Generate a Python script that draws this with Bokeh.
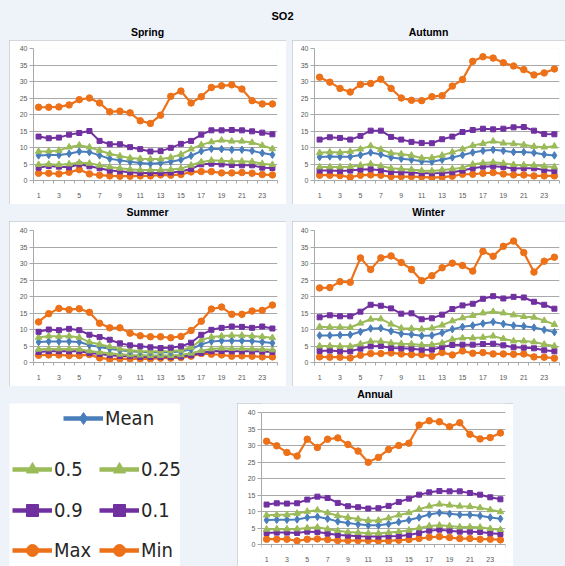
from bokeh.plotting import figure
from bokeh.layouts import column, row
from bokeh.models import Div, Range1d, FixedTicker, Legend, LegendItem
from bokeh.embed import file_html
from bokeh.resources import INLINE

# ---------------- data ----------------
hours = list(range(1, 25))
x_tick_labels = [1, 3, 5, 7, 9, 11, 13, 15, 17, 19, 21, 23]
y_ticks = [0, 5, 10, 15, 20, 25, 30, 35, 40]
series_names = ["Max", "0.9", "0.5", "Mean", "0.25", "0.1", "Min"]

spring_max = [22.2, 22.2, 22.3, 22.9, 24.5, 25.0, 23.5, 20.8, 21.0, 20.5, 18.1, 17.3,
              19.8, 25.5, 27.1, 23.5, 25.4, 28.2, 28.7, 29.0, 27.7, 24.2, 23.2, 23.2]
spring_p90 = [13.3, 12.8, 13.0, 13.9, 14.4, 15.0, 12.0, 11.0, 11.0, 10.1, 9.5, 8.8,
              8.9, 9.9, 11.1, 12.0, 13.9, 15.2, 15.2, 15.3, 15.2, 14.9, 14.5, 14.0]
spring_p50 = [8.8, 8.9, 9.1, 10.1, 10.7, 10.1, 9.1, 8.1, 7.4, 6.8, 6.6, 6.5,
              6.5, 7.0, 7.9, 9.5, 10.8, 11.7, 12.2, 11.9, 11.9, 11.5, 10.6, 9.6]
spring_mean = [7.6, 7.7, 7.7, 8.1, 8.8, 8.6, 7.6, 6.6, 6.1, 5.7, 5.3, 5.1,
               5.3, 5.7, 6.3, 7.5, 8.9, 9.6, 9.5, 9.3, 9.3, 9.0, 8.3, 7.8]
spring_p25 = [4.8, 4.9, 4.8, 5.0, 5.4, 5.2, 4.6, 4.1, 3.7, 3.4, 3.2, 3.2,
              3.2, 3.3, 3.6, 4.6, 5.6, 6.1, 6.0, 5.8, 5.8, 5.7, 5.1, 4.8]
spring_p10 = [3.9, 4.4, 4.2, 4.0, 4.9, 4.3, 3.7, 3.0, 2.8, 2.5, 2.3, 2.3,
              2.3, 2.4, 2.7, 3.5, 4.9, 5.1, 4.9, 4.7, 4.6, 4.6, 3.9, 3.8]
spring_min = [2.2, 2.2, 2.0, 2.5, 3.3, 2.0, 1.6, 1.4, 1.3, 1.3, 1.4, 1.4,
              1.7, 1.6, 1.8, 2.6, 2.7, 2.7, 2.3, 2.3, 2.4, 2.2, 1.8, 1.7]

autumn_max = [31.3, 29.8, 27.9, 26.8, 29.1, 29.4, 30.7, 27.9, 25.0, 24.3, 24.2, 25.4,
              25.7, 28.6, 30.6, 36.1, 37.5, 37.1, 35.7, 34.7, 33.6, 32.0, 32.6, 33.8]
autumn_p90 = [12.4, 13.1, 12.9, 12.4, 13.5, 15.1, 15.1, 13.2, 12.4, 11.7, 11.4, 11.3,
              12.5, 13.3, 14.7, 15.3, 15.7, 15.5, 15.7, 16.1, 16.2, 15.1, 14.1, 14.0]
autumn_p50 = [8.4, 8.6, 8.5, 8.8, 9.5, 10.5, 9.4, 8.3, 8.0, 7.6, 6.8, 6.9,
              7.6, 8.6, 9.5, 10.6, 11.2, 11.9, 11.3, 11.1, 10.8, 10.3, 10.1, 10.4]
autumn_mean = [7.1, 7.3, 7.2, 7.2, 7.7, 8.5, 7.9, 7.0, 6.6, 6.3, 5.8, 5.7,
               6.3, 7.0, 7.7, 8.5, 9.0, 9.3, 9.0, 8.6, 8.6, 8.4, 7.9, 7.6]
autumn_p25 = [4.1, 4.1, 4.1, 4.2, 4.6, 5.0, 4.4, 3.7, 3.5, 3.3, 3.0, 2.9,
              3.2, 3.5, 3.9, 4.9, 5.3, 5.5, 5.2, 4.8, 4.7, 4.6, 4.3, 4.1]
autumn_p10 = [3.0, 3.0, 2.9, 3.0, 3.3, 3.4, 3.1, 2.6, 2.5, 2.4, 2.2, 2.2,
              2.3, 2.5, 3.0, 3.7, 4.2, 4.3, 4.1, 3.6, 3.7, 3.7, 3.2, 2.9]
autumn_min = [1.6, 1.6, 1.5, 1.0, 1.6, 1.7, 1.6, 1.2, 1.2, 1.2, 1.1, 0.9,
              1.0, 1.3, 1.9, 1.9, 2.2, 2.4, 2.0, 1.7, 1.7, 1.4, 1.4, 1.4]

summer_max = [12.3, 14.8, 16.4, 16.0, 16.3, 15.2, 11.9, 10.5, 10.5, 8.9, 8.1, 7.8,
              7.8, 7.5, 7.9, 9.7, 12.5, 16.2, 16.8, 14.6, 14.6, 15.6, 15.8, 17.4]
summer_p90 = [9.3, 10.0, 9.8, 10.2, 9.8, 8.4, 7.7, 6.9, 5.8, 5.2, 4.9, 4.6,
              4.4, 4.5, 4.9, 6.0, 8.4, 9.9, 10.5, 10.9, 10.8, 10.5, 10.9, 10.3]
summer_p50 = [7.6, 8.0, 7.9, 8.0, 7.6, 6.2, 5.5, 4.8, 4.1, 3.7, 3.5, 3.4,
              3.4, 3.5, 3.7, 4.6, 6.8, 7.7, 8.0, 8.2, 8.2, 8.0, 7.8, 7.5]
summer_mean = [6.2, 6.4, 6.4, 6.4, 6.2, 5.3, 4.7, 4.2, 3.7, 3.4, 3.2, 3.1,
               3.1, 3.1, 3.3, 4.0, 5.5, 6.4, 6.6, 6.6, 6.6, 6.5, 6.2, 5.9]
summer_p25 = [4.0, 4.1, 4.1, 4.1, 4.0, 3.5, 3.1, 2.8, 2.5, 2.3, 2.2, 2.1,
              2.1, 2.1, 2.3, 2.8, 3.6, 4.1, 4.3, 4.2, 4.2, 4.1, 4.0, 3.8]
summer_p10 = [3.2, 3.4, 3.4, 3.4, 3.4, 2.9, 2.6, 2.2, 2.0, 1.9, 1.7, 1.7,
              1.7, 1.7, 1.8, 2.2, 2.9, 3.4, 3.5, 3.4, 3.4, 3.4, 3.3, 3.2]
summer_min = [2.2, 2.3, 2.3, 2.1, 2.1, 2.4, 1.4, 1.0, 1.1, 1.1, 1.1, 1.1,
              1.3, 1.3, 1.5, 1.9, 2.7, 2.5, 2.3, 1.9, 2.0, 1.9, 1.7, 1.7]

winter_max = [22.6, 22.7, 24.5, 24.3, 31.7, 28.2, 31.7, 32.3, 30.3, 28.2, 24.8, 26.3,
              28.7, 30.1, 29.4, 27.7, 33.7, 32.2, 35.2, 36.8, 33.3, 27.4, 30.7, 31.9]
winter_p90 = [13.7, 14.3, 14.0, 14.0, 15.4, 17.5, 17.2, 16.4, 14.8, 14.9, 13.1, 13.4,
              14.5, 16.2, 17.3, 17.8, 19.3, 20.1, 19.4, 19.9, 19.7, 18.4, 17.5, 16.3]
winter_p50 = [10.8, 10.7, 10.7, 10.6, 11.9, 13.1, 13.2, 11.6, 10.4, 10.3, 10.1, 10.4,
              11.3, 12.6, 13.5, 14.2, 15.0, 15.4, 15.0, 14.4, 13.9, 13.7, 12.7, 11.5]
winter_mean = [8.2, 8.2, 8.3, 8.4, 9.3, 10.3, 10.4, 9.5, 8.7, 8.5, 8.1, 8.2,
               9.0, 10.1, 10.8, 11.2, 11.8, 12.3, 11.7, 11.2, 11.0, 10.6, 9.9, 9.2]
winter_p25 = [5.0, 5.0, 4.9, 4.9, 5.6, 6.4, 6.4, 5.9, 5.7, 5.6, 5.3, 5.4,
              5.9, 7.0, 7.4, 7.4, 7.6, 8.0, 7.2, 6.5, 6.5, 6.2, 5.5, 5.0]
winter_p10 = [3.5, 3.6, 3.4, 3.4, 4.2, 4.9, 5.0, 4.4, 4.3, 4.2, 3.9, 3.9,
              4.7, 5.3, 5.4, 5.4, 5.6, 5.7, 5.2, 4.6, 4.5, 4.3, 3.7, 3.4]
winter_min = [1.7, 1.6, 1.6, 1.4, 2.2, 2.7, 2.7, 2.9, 2.6, 2.4, 2.4, 1.9,
              3.0, 2.3, 3.5, 2.8, 3.0, 2.6, 2.6, 2.5, 2.6, 1.7, 1.6, 1.3]

annual_max = [31.3, 29.9, 27.9, 26.8, 31.9, 29.4, 31.9, 32.3, 30.3, 28.3, 24.9, 26.4,
              28.8, 30.0, 30.7, 36.2, 37.5, 37.2, 35.7, 36.9, 33.4, 32.0, 32.4, 33.8]
annual_p90 = [12.1, 12.5, 12.4, 12.5, 13.6, 14.5, 14.1, 12.6, 11.6, 11.3, 10.9, 11.0,
              11.7, 12.9, 13.9, 15.1, 15.8, 16.2, 16.1, 16.1, 15.6, 15.1, 14.3, 13.7]
annual_p50 = [8.9, 9.0, 9.0, 9.4, 10.0, 10.4, 9.6, 8.7, 8.2, 7.7, 7.3, 7.3,
              8.0, 8.9, 9.6, 10.7, 11.6, 12.2, 11.9, 11.6, 11.5, 11.1, 10.5, 9.9]
annual_mean = [7.4, 7.5, 7.5, 7.6, 8.2, 8.4, 7.8, 7.0, 6.5, 6.1, 5.8, 5.8,
               6.2, 6.8, 7.4, 8.2, 9.1, 9.6, 9.3, 9.0, 9.0, 8.7, 8.2, 7.8]
annual_p25 = [4.6, 4.7, 4.7, 4.7, 5.0, 5.2, 4.7, 4.2, 3.8, 3.6, 3.4, 3.4,
              3.6, 3.9, 4.3, 5.0, 5.6, 5.8, 5.6, 5.3, 5.3, 5.2, 4.8, 4.5]
annual_p10 = [3.5, 3.6, 3.6, 3.5, 3.9, 3.8, 3.3, 2.9, 2.7, 2.5, 2.4, 2.4,
              2.5, 2.6, 2.9, 3.5, 4.2, 4.5, 4.2, 3.9, 3.9, 3.8, 3.4, 3.2]
annual_min = [1.6, 1.6, 1.6, 1.1, 1.6, 1.7, 1.5, 1.2, 1.2, 1.2, 1.2, 1.1,
              1.1, 1.3, 1.5, 1.8, 2.2, 2.4, 2.1, 1.8, 1.8, 1.6, 1.6, 1.4]

# ---------------- styles ----------------
ORANGE = "#EC7118"
PURPLE = "#7030A0"
GREEN = "#9BBB59"
BLUE = "#4A7EBB"
GRID = "#A9A9A9"
BG = "#EEF2F9"
STYLE = {
    "Max": (ORANGE, "circle", 6.5, 2.2),
    "0.9": (PURPLE, "square", 5, 2.0),
    "0.5": (GREEN, "triangle", 6.5, 2.0),
    "Mean": (BLUE, "diamond", 7.5, 2.0),
    "0.25": (GREEN, "triangle", 6.5, 2.0),
    "0.1": (PURPLE, "square", 5, 2.0),
    "Min": (ORANGE, "circle", 6.5, 2.2),
}
TICK_FONT = "Liberation Sans"
TITLE_FONT = "'Liberation Sans', sans-serif"
LEG_FONT = "DejaVu Sans Condensed, Roboto, sans-serif"


def title_div(text, w, h, ml, size="10.5px", pad=0, lh=None):
    lh = h - pad if lh is None else lh
    html = ('<div style="width:%dpx;height:%dpx;padding-top:%dpx;line-height:%dpx;'
            'text-align:center;font-family:%s;font-weight:bold;font-size:%s;'
            'color:#000;box-sizing:border-box;">%s</div>'
            % (w, h, pad, lh, TITLE_FONT, size, text))
    return Div(text=html, width=w, height=h, margin=(0, 0, 0, ml))


def make_panel(data, w, h, bl, br, bt, bb, ml, standoff=9, y_range=None, inner_xaxis=False):
    yr = Range1d(0, 40) if y_range is None else y_range
    p = figure(width=w, height=h, x_range=Range1d(0.5, 24.5), y_range=yr,
               output_backend="svg", toolbar_location=None,
               min_border_left=bl, min_border_right=br, min_border_top=bt,
               min_border_bottom=bb, margin=(0, 0, 0, ml),
               styles={"outline": "1px solid #C4C8CE", "outline-offset": "-1px"})
    p.background_fill_color = "white"
    p.border_fill_color = "white"
    p.outline_line_color = None
    p.xgrid.visible = False
    minor = [hh - 0.5 for hh in hours] + [hours[-1] + 0.5]
    p.xaxis.ticker = FixedTicker(ticks=x_tick_labels, minor_ticks=minor)
    p.yaxis.ticker = FixedTicker(ticks=y_ticks)
    p.ygrid.ticker = FixedTicker(ticks=y_ticks)
    p.ygrid.grid_line_color = GRID
    p.ygrid.grid_line_width = 1
    for ax in (p.xaxis, p.yaxis):
        ax.axis_line_color = GRID
        ax.major_label_text_font = TICK_FONT
        ax.major_label_text_font_size = "7px"
        ax.major_label_text_color = "#595959"
        ax.major_tick_line_color = GRID
        ax.minor_tick_line_color = GRID
    p.xaxis.major_tick_out = 0
    p.xaxis.major_tick_in = 0
    p.xaxis.minor_tick_out = 3
    p.xaxis.minor_tick_in = 0
    p.xaxis.major_label_standoff = standoff
    p.yaxis.major_tick_out = 4
    p.yaxis.major_tick_in = 0
    p.yaxis.minor_tick_line_color = None
    p.yaxis.major_label_standoff = 2
    if inner_xaxis:
        # x axis drawn at value 0 inside the frame; y axis line limited to 0..40
        p.xaxis.fixed_location = y_ticks[0]
        p.yaxis.bounds = (y_ticks[0], y_ticks[-1])
    for name in ["Min", "0.1", "0.25", "Mean", "0.5", "0.9", "Max"]:
        c, m, s, lw = STYLE[name]
        vals = data[name]
        p.line(hours, vals, line_width=lw, color=c)
        p.scatter(hours, vals, marker=m, size=s, color=c)
    return p


def pack(mx, p90, p50, mean, p25, p10, mn):
    return {"Max": mx, "0.9": p90, "0.5": p50, "Mean": mean,
            "0.25": p25, "0.1": p10, "Min": mn}


spring = make_panel(pack(spring_max, spring_p90, spring_p50, spring_mean, spring_p25, spring_p10, spring_min),
                    277, 164, 24, 9, 8, 24, 9)
autumn = make_panel(pack(autumn_max, autumn_p90, autumn_p50, autumn_mean, autumn_p25, autumn_p10, autumn_min),
                    273, 164, 22, 6, 8, 24, 6)
summer = make_panel(pack(summer_max, summer_p90, summer_p50, summer_mean, summer_p25, summer_p10, summer_min),
                    277, 165, 24, 9, 9, 24, 9)
winter = make_panel(pack(winter_max, winter_p90, winter_p50, winter_mean, winter_p25, winter_p10, winter_min),
                    273, 165, 22, 6, 9, 24, 6)

# Annual panel: frame covers the whole panel height (163 px); 0..40 occupies 132 px,
# with 9 px of space above 40 and 22 px below 0 for the x tick labels.
ANN_H = 163
ANN_TOP, ANN_BOTTOM = 9, 22
px_per_unit = (ANN_H - ANN_TOP - ANN_BOTTOM) / (y_ticks[-1] - y_ticks[0])
annual_range = Range1d(y_ticks[0] - ANN_BOTTOM / px_per_unit, y_ticks[-1] + ANN_TOP / px_per_unit)
annual = make_panel(pack(annual_max, annual_p90, annual_p50, annual_mean, annual_p25, annual_p10, annual_min),
                    276, ANN_H, 24, 8, 0, 0, 57, y_range=annual_range, inner_xaxis=True)

# ---------------- legend panel ----------------
leg = figure(width=171, height=ANN_H, x_range=Range1d(0, 1), y_range=Range1d(0, 1),
             output_backend="svg", toolbar_location=None, min_border=0,
             x_axis_location=None, y_axis_location=None, margin=(0, 0, 0, 9))
leg.grid.visible = False
leg.outline_line_color = None
leg.background_fill_color = "white"
leg.border_fill_color = "white"

leg_source = pack(annual_max, annual_p90, annual_p50, annual_mean, annual_p25, annual_p10, annual_min)
rends = {}
for name in series_names:
    c, m, s, lw = STYLE[name]
    # real values, lying outside the legend panel's (0..1) view
    rl = leg.line(x=hours[:2], y=leg_source[name][:2], line_width=4.5, color=c)
    rp = leg.scatter(x=hours[:2], y=leg_source[name][:2], marker=m, size=12, color=c)
    rends[name] = [rl, rp]


def make_legend(names, loc):
    lg = Legend(items=[LegendItem(label=n, renderers=rends[n]) for n in names],
                location=loc, orientation="horizontal",
                glyph_width=40, glyph_height=30, label_height=30, label_width=45,
                label_standoff=2, padding=0, spacing=0, margin=0,
                border_line_color=None, background_fill_alpha=0,
                label_text_font=LEG_FONT, label_text_font_size="20px",
                label_text_color="#262626")
    leg.add_layout(lg)


make_legend(["Mean"], (54, 133))
make_legend(["0.5", "0.25"], (3, 82))
make_legend(["0.9", "0.1"], (3, 41))
make_legend(["Max", "Min"], (3, 1))

# ---------------- layout ----------------
top_title = title_div("SO2", 565, 24, 0, size="11px", pad=10, lh=12)
row_t1 = row(title_div("Spring", 277, 16, 9), title_div("Autumn", 273, 16, 6), spacing=0, margin=0)
row_p1 = row(spring, autumn, spacing=0, margin=0)
row_t2 = row(title_div("Summer", 277, 17, 9), title_div("Winter", 273, 17, 6), spacing=0, margin=0)
row_p2 = row(summer, winter, spacing=0, margin=0)
row_t3 = row(title_div("Annual", 276, 17, 237), spacing=0, margin=0)
row_p3 = row(leg, annual, spacing=0, margin=0)

page = column(top_title, row_t1, row_p1, row_t2, row_p2, row_t3, row_p3,
              spacing=0, margin=0, styles={"background-color": BG})

open("out.html", "w").write(file_html(page, INLINE))
